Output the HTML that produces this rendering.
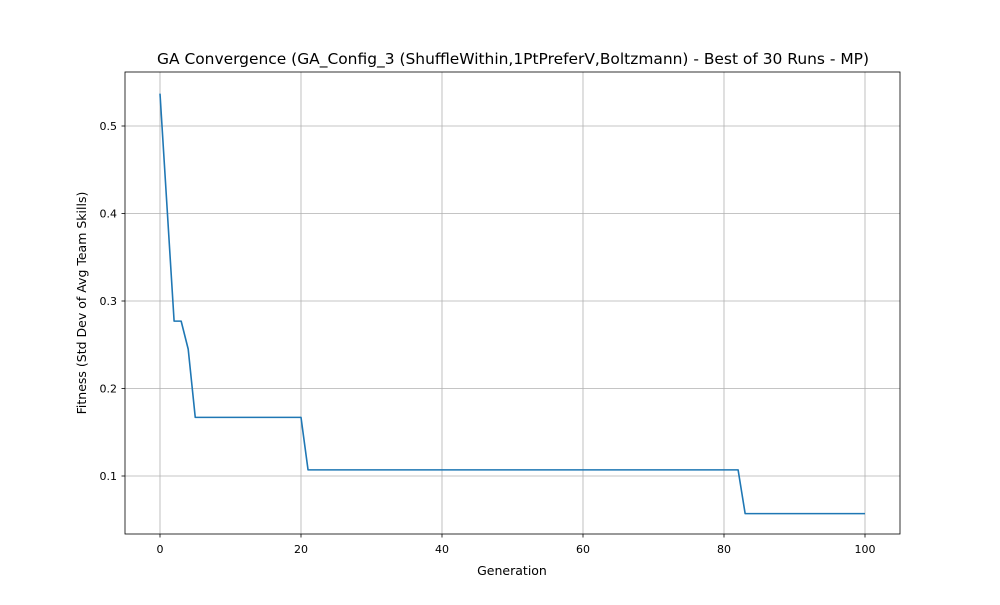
<!DOCTYPE html>
<html><head><meta charset="utf-8"><style>
body{margin:0;background:#fff}
svg text{font-family:"DejaVu Sans","Liberation Sans",sans-serif;fill:#000}
</style></head><body>
<svg id="chart" width="1000" height="600" xmlns="http://www.w3.org/2000/svg">
<rect width="1000" height="600" fill="#fff"/>
<g id="grid"></g>
<g id="ticks"></g>
<polyline id="line" fill="none" stroke="#1f77b4" stroke-width="1.6" stroke-linejoin="round"/>
<rect x="125" y="72" width="775" height="462" fill="none" stroke="#000" stroke-width="0.8"/>
<text x="513" y="64" font-size="15.3" text-anchor="middle" textLength="712" lengthAdjust="spacingAndGlyphs">GA Convergence (GA_Config_3 (ShuffleWithin,1PtPreferV,Boltzmann) - Best of 30 Runs - MP)</text>
<text x="512" y="575" font-size="12.5" text-anchor="middle">Generation</text>
<text x="0" y="0" font-size="12.5" text-anchor="middle" transform="translate(86,303) rotate(-90)">Fitness (Std Dev of Avg Team Skills)</text>
</svg>
<script>
const xTicks=[0,20,40,60,80,100];
const yTicks=[0.1,0.2,0.3,0.4,0.5];
const yTickLabels=["0.1","0.2","0.3","0.4","0.5"];
const fitness=[0.537,0.407,0.277,0.277,0.245,
0.167,0.167,0.167,0.167,0.167,0.167,0.167,0.167,0.167,0.167,0.167,0.167,0.167,0.167,0.167,0.167,
0.107,0.107,0.107,0.107,0.107,0.107,0.107,0.107,0.107,0.107,0.107,0.107,0.107,0.107,0.107,0.107,
0.107,0.107,0.107,0.107,0.107,0.107,0.107,0.107,0.107,0.107,0.107,0.107,0.107,0.107,0.107,0.107,
0.107,0.107,0.107,0.107,0.107,0.107,0.107,0.107,0.107,0.107,0.107,0.107,0.107,0.107,0.107,0.107,
0.107,0.107,0.107,0.107,0.107,0.107,0.107,0.107,0.107,0.107,0.107,0.107,0.107,0.107,
0.057,0.057,0.057,0.057,0.057,0.057,0.057,0.057,0.057,0.057,0.057,0.057,0.057,0.057,0.057,0.057,0.057,0.057];
const NS="http://www.w3.org/2000/svg";
function xs(v){return 160+v*7.05;}
function ys(v){return 476-(v-0.1)*875;}
const grid=document.getElementById('grid'),ticks=document.getElementById('ticks');
function mk(tag,attrs,parent){const e=document.createElementNS(NS,tag);for(const k in attrs)e.setAttribute(k,attrs[k]);parent.appendChild(e);return e;}
xTicks.forEach(t=>{
  const x=xs(t);
  const g=mk('line',{x1:x,x2:x,y1:72,y2:534,stroke:'#b0b0b0','stroke-width':0.8},grid);
  
  
  const tk=mk('line',{x1:x,x2:x,y1:534,y2:537.5,stroke:'#000','stroke-width':0.8},ticks);
  
  
  const l=mk('text',{x:x,y:553,'font-size':11,'text-anchor':'middle'},ticks);
  l.textContent=t;
  
  
});
yTicks.forEach((t,i)=>{
  const y=ys(t);
  const g=mk('line',{x1:125,x2:900,y1:y,y2:y,stroke:'#b0b0b0','stroke-width':0.8},grid);
  
  
  const tk=mk('line',{x1:121.5,x2:125,y1:y,y2:y,stroke:'#000','stroke-width':0.8},ticks);
  
  
  const l=mk('text',{x:117,y:y+4,'font-size':11,'text-anchor':'end'},ticks);
  l.textContent=yTickLabels[i];
  
  
});
document.getElementById('line').setAttribute('points',fitness.map((v,i)=>xs(i)+','+ys(v)).join(' '));
</script>
</body></html>
